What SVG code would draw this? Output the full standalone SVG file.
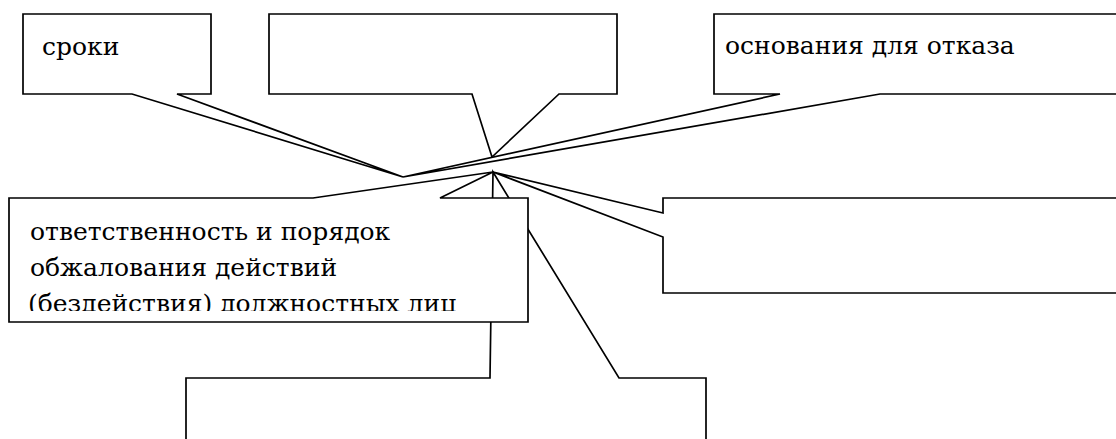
<svg xmlns="http://www.w3.org/2000/svg" width="1116" height="439" viewBox="0 0 1116 439">
<style>
.c{fill:#fff;stroke:#000;stroke-width:1.7;stroke-linejoin:miter}
text{font-size:25px;fill:#000}
.b{font-family:'DejaVu Serif',serif}
</style>
<defs>
<clipPath id="clip4"><rect x="10" y="199" width="517" height="112"/></clipPath>
</defs>
<rect width="1116" height="439" fill="#fff"/>
<g id="connectors"></g>
<g id="node-bottom">
<path class="c" d="M186,450 V378 H490 L493,172 L619,378 H706 V450 Z"/>
</g>
<g id="node-responsibility">
<path class="c" d="M9,198 H313 L493,172 L440,198 H528 V322 H9 Z"/>
<g clip-path="url(#clip4)">
<text class="b" x="30" y="240">ответственность и порядок</text>
<text class="b" x="30" y="276">обжалования действий</text>
<text class="b" x="28" y="312">(бездействия) должностных лиц</text>
</g>
</g>
<g id="node-terms">
<path class="c" d="M23,14 H211 V94 H177 L403,177 L132,94 H23 Z"/>
<text class="b" x="42" y="55">сроки</text>
</g>
<g id="node-top-middle">
<path class="c" d="M269,14 H617 V94 H559 L492,157 L472,94 H269 Z"/>
</g>
<g id="node-refusal">
<path class="c" d="M714,14 H1130 V94 H880 L403,177 L780,94 H714 Z"/>
<text class="b" x="725" y="54">основания для отказа</text>
</g>
<g id="node-right">
<path class="c" d="M663,198 H1130 V293 H663 V237 L493,172 L663,213 Z"/>
</g>
</svg>
